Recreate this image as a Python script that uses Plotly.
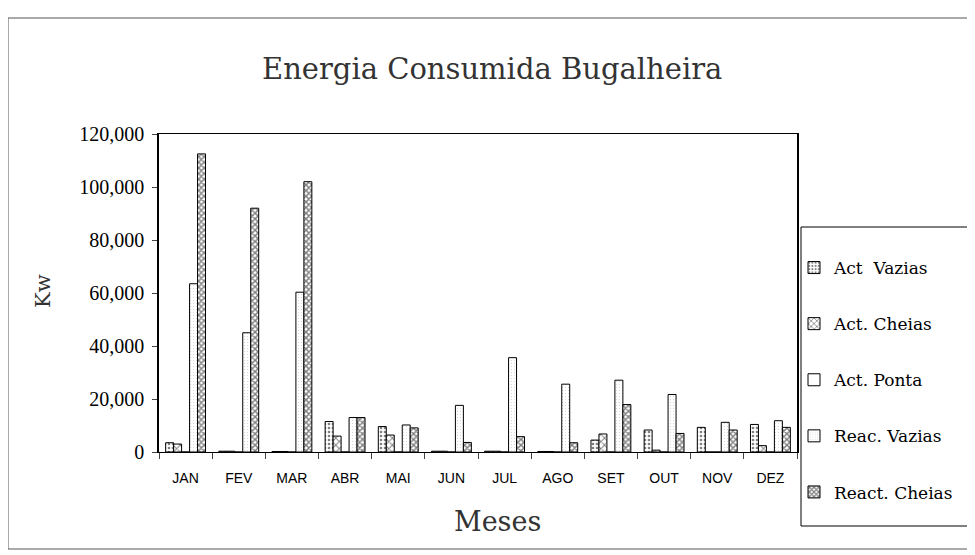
import plotly.graph_objects as go

months = ["JAN", "FEV", "MAR", "ABR", "MAI", "JUN", "JUL", "AGO", "SET", "OUT", "NOV", "DEZ"]
act_vazias = [3500, 300, 200, 11500, 9600, 300, 300, 200, 4500, 8300, 9300, 10400]
act_cheias = [3000, 300, 200, 6000, 6400, 300, 300, 200, 6800, 700, 0, 2400]
act_ponta = [0, 0, 0, 0, 0, 0, 0, 0, 0, 0, 0, 0]
reac_vazias = [63500, 45000, 60300, 13000, 10200, 17600, 35600, 25600, 27100, 21700, 11200, 11800]
react_cheias = [112500, 92000, 102000, 13000, 9100, 3600, 5800, 3500, 17900, 7000, 8300, 9300]

series_names = ["Act  Vazias", "Act. Cheias", "Act. Ponta", "Reac. Vazias", "React. Cheias"]
series_values = [act_vazias, act_cheias, act_ponta, reac_vazias, react_cheias]
patterns = [
    dict(shape=".", fgcolor="black", bgcolor="white", size=4, solidity=0.35),
    dict(shape="x", fgcolor="black", bgcolor="white", size=5, solidity=0.35),
    dict(shape="", fgcolor="black", bgcolor="white"),
    dict(shape=".", fgcolor="#999999", bgcolor="white", size=3, solidity=0.1),
    dict(shape="x", fgcolor="black", bgcolor="white", size=4, solidity=0.6),
]

fig = go.Figure()
for name, vals, pat in zip(series_names, series_values, patterns):
    fig.add_trace(go.Bar(
        x=months, y=vals, name=name, legendgroup=name,
        marker=dict(color="white", line=dict(color="black", width=1), pattern=pat),
    ))

W, H = 975, 555
L, R, T, B = 151, 186, 126, 111
pw, ph = W - L - R, H - T - B

def px2x(px):
    return (px - L) / pw

def py2y(py):
    return (H - B - py) / ph

serif = "Liberation Serif"
wide_serif = "DejaVu Serif"
fig.update_layout(
    width=W, height=H,
    margin=dict(l=L, r=R, t=T, b=B, autoexpand=False),
    paper_bgcolor="white", plot_bgcolor="white",
    barmode="group", bargap=0.25, bargroupgap=0,
    font=dict(family=serif, color="black"),
    showlegend=True,
    legend=dict(
        x=px2x(786), y=py2y(242), xanchor="left", yanchor="top",
        font=dict(family=wide_serif, size=17, color="black"),
        tracegroupgap=31, bgcolor="rgba(0,0,0,0)", borderwidth=0,
    ),
    xaxis=dict(
        type="category", tickson="boundaries", ticks="outside", ticklen=6,
        showline=True, linecolor="black", linewidth=1, mirror=True,
        tickfont=dict(family="Liberation Sans", size=14, color="black"),
        ticklabelstandoff=13, showgrid=False, zeroline=False,
    ),
    yaxis=dict(
        range=[0, 120000], dtick=20000, tickformat=",d",
        ticks="outside", ticklen=5,
        showline=True, linecolor="black", linewidth=1.5, mirror=True,
        tickfont=dict(family=serif, size=20, color="black"),
        ticklabelstandoff=4, showgrid=False, zeroline=False,
    ),
    annotations=[
        dict(text="Energia Consumida Bugalheira", xref="paper", yref="paper",
             x=px2x(484), y=py2y(61), xanchor="center", yanchor="middle",
             showarrow=False, font=dict(family=wide_serif, size=29, color="#333333")),
        dict(text="Meses", xref="paper", yref="paper",
             x=px2x(489), y=py2y(513), xanchor="center", yanchor="middle",
             showarrow=False, font=dict(family=wide_serif, size=27, color="#333333")),
        dict(text="Kw", xref="paper", yref="paper", textangle=-90,
             x=px2x(35), y=py2y(283), xanchor="center", yanchor="middle",
             showarrow=False, font=dict(family=wide_serif, size=21, color="#333333")),
    ],
    shapes=[
        dict(type="rect", xref="paper", yref="paper",
             x0=px2x(0), x1=px2x(990), y0=py2y(541), y1=py2y(10),
             line=dict(color="#555555", width=1), layer="below"),
        dict(type="rect", xref="paper", yref="paper",
             x0=px2x(793), x1=px2x(990), y0=py2y(518), y1=py2y(219),
             line=dict(color="black", width=1), layer="below"),
    ],
)

fig.write_html("out.html")
